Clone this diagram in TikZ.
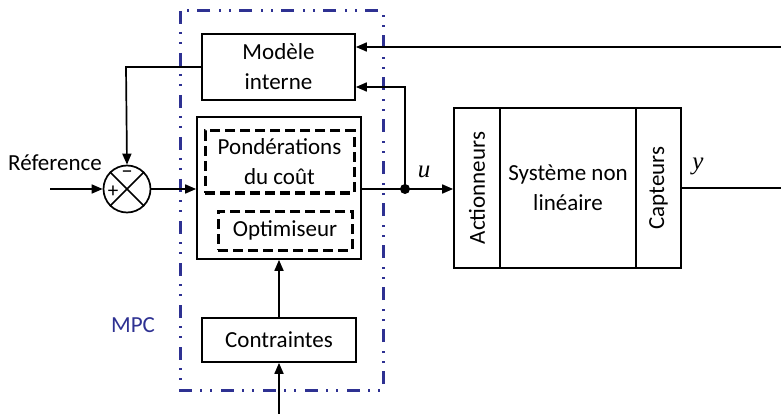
\documentclass[tikz,border=0pt]{standalone}
\usepackage{fontspec}
\setmainfont{Carlito}
\newfontfamily\serfont{Liberation Serif}
\usetikzlibrary{arrows.meta,calc}
\definecolor{mpcblue}{RGB}{46,49,146}
\begin{document}
\begin{tikzpicture}[x=1pt,y=-1pt,
  blk/.style={draw,line width=1.7pt,rectangle,inner sep=0pt,align=center,font=\fontsize{23}{30}\selectfont},
  dbox/.style={draw,line width=3pt,dash pattern=on 10pt off 5pt,rectangle,inner sep=0pt,align=center,font=\fontsize{23}{30}\selectfont},
  arr/.style={line width=1.7pt,-{Triangle[length=11pt,width=9pt]}},
  wire/.style={line width=1.7pt},
  mpcframe/.style={draw=mpcblue,line width=3pt,dash pattern=on 13pt off 8pt on 2pt off 8pt on 2pt off 9pt}]
\useasboundingbox (0,0) rectangle (781,414);
% MPC frame
\draw[mpcframe] (180,11) rectangle (383,390);
\node[text=mpcblue,font=\fontsize{23}{26}\selectfont] (mpc) at (133,325) {MPC};
% blocks
\node[blk,minimum width=153pt,minimum height=66pt] (mi) at (278.5,67) {Modèle\\interne};
\node[blk,minimum width=164pt,minimum height=142pt] (opt) at (279,188) {};
\node[dbox,minimum width=149pt,minimum height=62pt] (pond) at (279.5,162) {Pondérations\\du coût};
\node[dbox,minimum width=134pt,minimum height=39pt] (optim) at (285,230.5) {Optimiseur};
\node[blk,minimum width=154pt,minimum height=44pt] (contr) at (279,340) {Contraintes};
% plant
\node[blk,minimum width=46pt,minimum height=160pt] (act) at (477,188) {};
\node[font=\fontsize{23}{26}\selectfont,rotate=90] (actt) at (act.center) {Actionneurs};
\node[blk,minimum width=136pt,minimum height=160pt] (sys) at (568,188) {Système non\\linéaire};
\node[blk,minimum width=45pt,minimum height=160pt] (cap) at (658.5,188) {};
\node[font=\fontsize{23}{26}\selectfont,rotate=90] (capt) at (cap.center) {Capteurs};
% summing junction
\node[draw,circle,line width=1.7pt,minimum size=47pt,inner sep=0pt] (sum) at (127,189) {};
\draw[wire] (sum.north west) -- (sum.south east);
\draw[wire] (sum.north east) -- (sum.south west);
\node[font=\fontsize{22}{24}\selectfont] (minus) at (127,175) {−};
\node[font=\fontsize{21}{22}\selectfont] (plus) at (113,192) {+};
\node[font=\fontsize{23}{26}\selectfont] (ref) at (55,163) {Réference};
% coordinates
\coordinate (in) at (50,189);
\coordinate (topin) at (781,47);
\coordinate (fb) at (405,87);
\coordinate (bin) at (279,414);
\coordinate (out) at (781,188);
\coordinate (corner) at (126,67);
\node[circle,fill,inner sep=0pt,minimum size=10pt] (dot) at (405,189) {};
% connectors
\draw[arr] (in) -- (sum.west);
\draw[arr] (sum.east) -- (sum.east -| opt.west);
\draw[arr] (mi.west) -- (corner) -- (sum.north);
\draw[wire] (opt.east |- dot) -- (dot.center);
\draw[arr] (dot.center) -- (dot -| act.west);
\draw[arr] (dot.center) -- (fb) -- (fb -| mi.east);
\draw[arr] (topin) -- (topin -| mi.east);
\draw[arr] (contr.north) -- (opt.south);
\draw[arr] (bin) -- (contr.south);
\draw[wire] (cap.east) -- (out);
% signal labels
\node[font=\serfont\itshape\fontsize{25}{27}\selectfont] (ulab) at (424,172) {u};
\node[font=\serfont\itshape\fontsize{25}{27}\selectfont] (ylab) at (698,166) {y};
\end{tikzpicture}
\end{document}
